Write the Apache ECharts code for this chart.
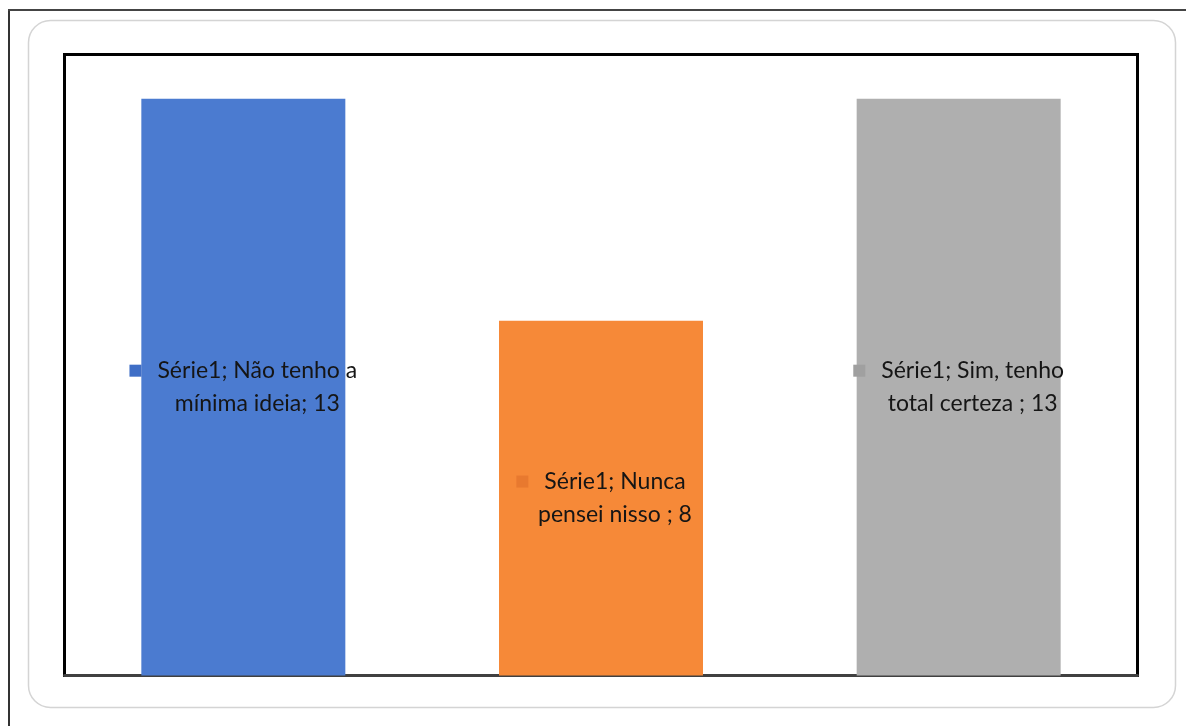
<!DOCTYPE html>
<html>
<head>
<meta charset="utf-8">
<script src="https://cdn.jsdelivr.net/npm/echarts@6/dist/echarts.min.js"></script>
<style>
html,body{margin:0;padding:0;background:#fff;}
#chart{width:1186px;height:726px;}
</style>
</head>
<body>
<div id="chart"></div>
<script>
const seriesName = 'Série1';
const categories = ['Não tenho a\nmínima ideia', 'Nunca\npensei nisso ', 'Sim, tenho\ntotal certeza '];
const values = [13, 8, 13];
const barColors = ['#4b7bd0', '#f68938', '#afafaf'];
const keyColors = ['#3f6ec6', '#e8792f', '#a0a0a0'];

const chart = echarts.init(document.getElementById('chart'));

const FONT = 'Lato';
const rich = { t: { fontFamily: FONT, fontSize: 23, color: '#151515', lineHeight: 33 }, sp: { width: 28, height: 12 } };
keyColors.forEach((c, i) => {
  rich['k' + i] = { backgroundColor: c, width: 12, height: 12 };
  rich['g' + i] = { width: 16, height: 12 };
});

const data = values.map((v, i) => ({
  value: v,
  itemStyle: { color: barColors[i] },
  label: {
    formatter: () => {
      const lines = (seriesName + '; ' + categories[i] + '; ' + v).split('\n');
      return lines.map((ln, j) => j === 0
        ? '{k' + i + '|}{g' + i + '|}{t|' + ln + '}'
        : '{sp|}{t|' + ln + '}').join('\n');
    }
  }
}));

chart.setOption({
  animation: false,
  backgroundColor: '#ffffff',
  grid: { left: 64.5, top: 54.5, width: 1073, height: 621, show: true, borderColor: '#000000', borderWidth: 3, backgroundColor: 'transparent' },
  xAxis: {
    type: 'category',
    data: categories,
    axisLine: { show: true, lineStyle: { color: '#404040', width: 3 } },
    axisTick: { show: false },
    axisLabel: { show: false },
    splitLine: { show: false }
  },
  yAxis: {
    type: 'value', min: 0, max: 14, interval: 2,
    show: false,
    splitLine: { show: false }
  },
  series: [{
    type: 'bar',
    name: seriesName,
    data: data,
    barWidth: 204,
    label: { show: true, position: 'inside', align: 'center', rich: rich }
  }],
  graphic: [
    { type: 'rect', shape: { x: 28.5, y: 20.5, width: 1147, height: 687, r: 22 }, style: { fill: 'none', stroke: '#d4d4d4', lineWidth: 1.5 }, z: -10 },
    { type: 'line', shape: { x1: 9, y1: 10, x2: 9, y2: 726 }, style: { stroke: '#333333', lineWidth: 2 } },
    { type: 'line', shape: { x1: 8, y1: 10, x2: 1186, y2: 10 }, style: { stroke: '#444444', lineWidth: 2 } }
  ]
});
</script>
</body>
</html>
